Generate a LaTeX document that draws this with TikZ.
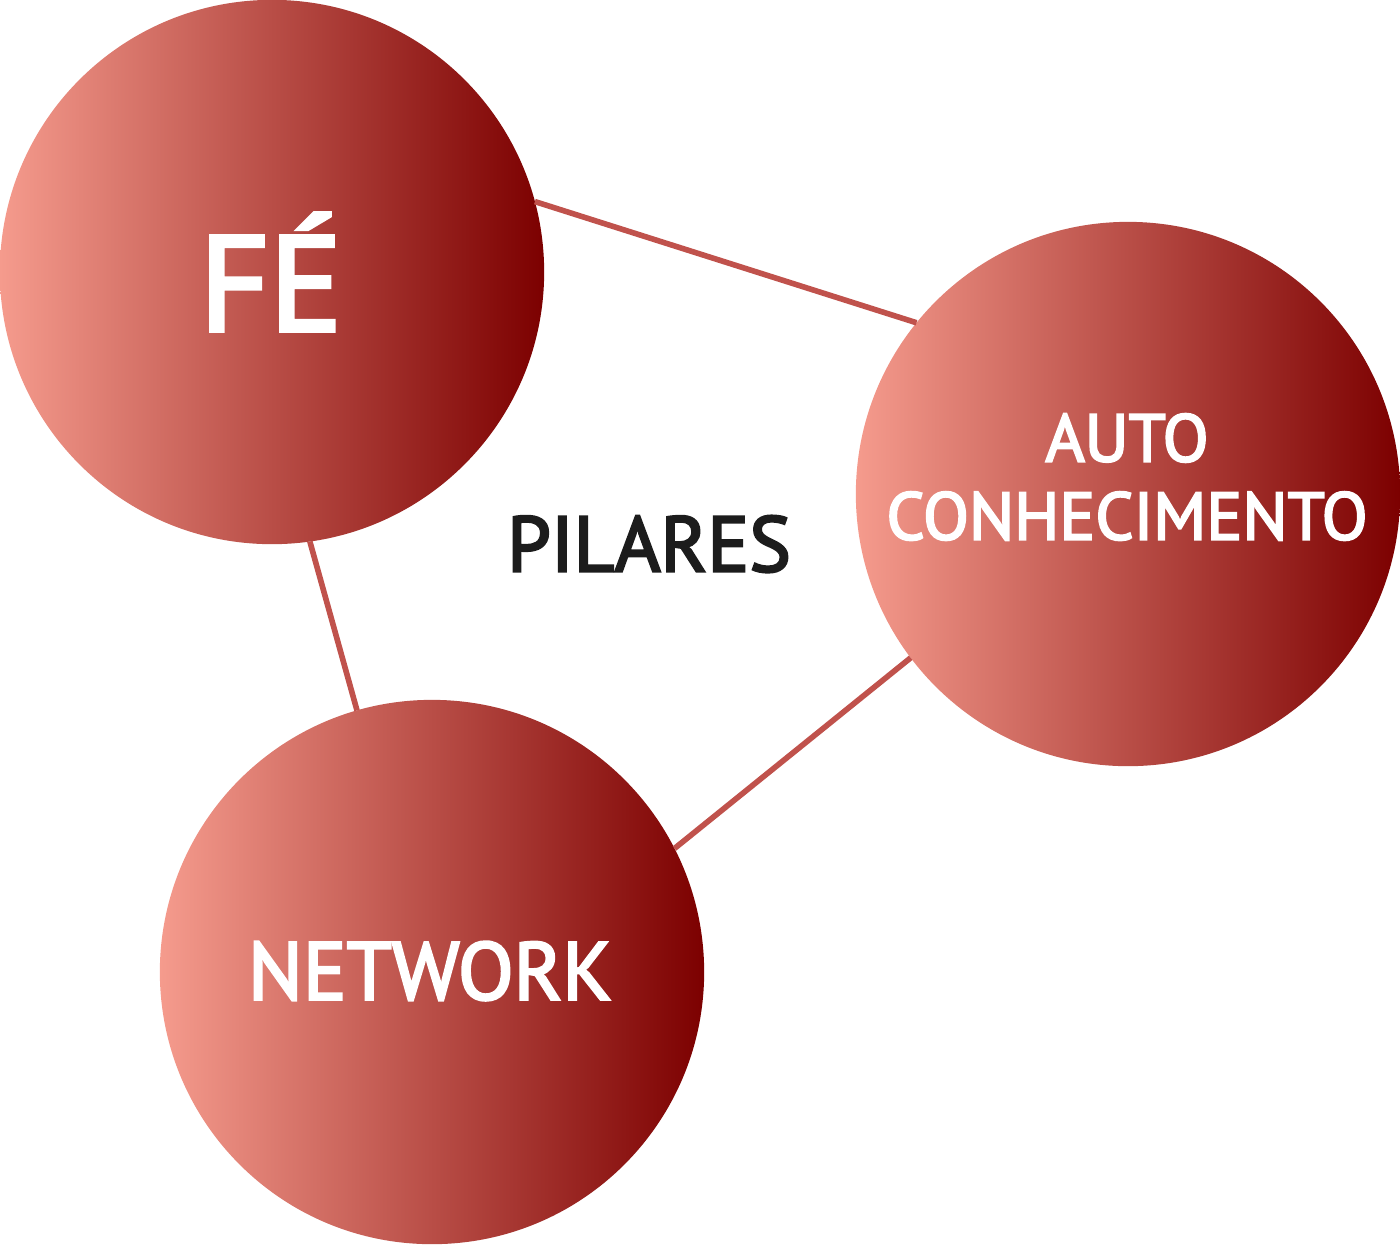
\documentclass[tikz,border=0pt]{standalone}
\usepackage{fontspec}
\setmainfont[FakeBold=3]{PT Sans}
\definecolor{pillight}{HTML}{F59B8D}
\definecolor{pildark}{HTML}{7C0000}
\definecolor{linkred}{HTML}{C0524C}
\definecolor{inkdark}{HTML}{1C1C1C}
\tikzset{
  pillar/.style={circle, minimum size=5.44cm, inner sep=0pt, outer sep=0pt,
    left color=pillight, right color=pildark, draw=none},
  pillartext/.style={text=white, align=center, inner sep=0pt},
  link/.style={draw=linkred, line width=1.6pt},
}
\begin{document}
\begin{tikzpicture}[x=0.01cm, y=-0.01cm]
  \useasboundingbox (0,0) rectangle (1400,1244);

  % the three pillars
  \node[pillar] (fe)   at (272,272)  {};
  \node[pillar] (auto) at (1128,494) {};
  \node[pillar] (net)  at (432,972)  {};

  % links between the pillars, drawn chord to chord
  \draw[link] (fe.15.7)  -- (auto.141);
  \draw[link] (fe.-82)   -- (net.106);
  \draw[link] (auto.217.5) -- (net.27.5);

  % labels
  \node[pillartext, font=\fontsize{38.5}{46}\selectfont] (fet) at (271,272) {FÉ};
  \node[pillartext, font=\fontsize{19.1}{22.2}\selectfont] (autot) at (1127,477)
    {AUTO\\CONHECIMENTO};
  \node[pillartext, font=\fontsize{23.2}{28}\selectfont] (nett) at (430,971) {NETWORK};
  \node[text=inkdark, inner sep=0pt, font=\fontsize{22.3}{27}\selectfont] (pil)
    at (649,544) {PILARES};
\end{tikzpicture}
\end{document}
